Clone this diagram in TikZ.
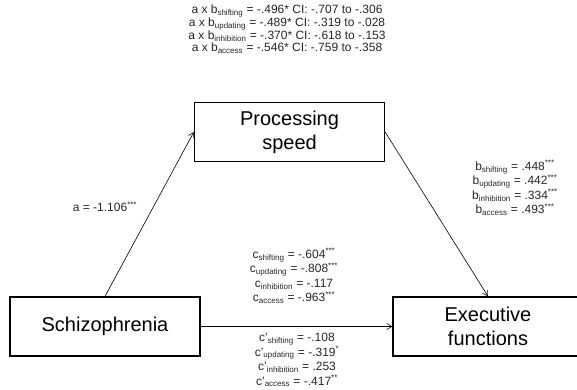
\documentclass[tikz,border=0pt]{standalone}
\usepackage{fontspec}
\setmainfont{Liberation Sans}
\usetikzlibrary{arrows.meta}
\newcommand{\sbs}[1]{\textsubscript{#1}}
\newcommand{\sps}[1]{\textsuperscript{#1}}
\begin{document}
\begin{tikzpicture}[x=1pt,y=-1pt,
  box/.style={draw,line width=1.3pt,minimum width=190pt,minimum height=59pt,inner sep=0pt,align=center,font=\fontsize{20}{24}\selectfont},
  conn/.style={line width=0.6pt,-{Straight Barb[length=5pt,width=6pt]}},
  lbl/.style={align=center,inner sep=0pt,text=black!85}]
\useasboundingbox (0,0) rectangle (577,390);
\begin{scope}
\clip (0,0) rectangle (577,390);
\node[box] (ps) at (289.5,132) {Processing\\speed};
\node[box] (sz) at (105,326.5) {Schizophrenia};
\node[box] (ef) at (488,326.5) {Executive\\functions};
\end{scope}
\draw[conn] (sz.north) -- (ps.west);
\draw[conn] (ps.east) -- (ef.north);
\draw[conn] (sz.east) -- (ef.west);
\node[lbl,font=\fontsize{12}{11.5}\selectfont] (ab) at (287,29) {a x b\sbs{shifting} = -.496* CI: -.707 to -.306\\a x b\sbs{updating} = -.489* CI: -.319 to -.028\\a x b\sbs{inhibition} = -.370* CI: -.618 to -.153\\a x b\sbs{access} = -.546* CI: -.759 to -.358};
\node[lbl,font=\fontsize{12}{14}\selectfont] (al) at (105,207) {a = -1.106\sps{***}};
\node[lbl,font=\fontsize{12}{14.5}\selectfont] (bl) at (515,188) {b\sbs{shifting} = .448\sps{***}\\b\sbs{updating} = .442\sps{***}\\b\sbs{inhibition} = .334\sps{***}\\b\sbs{access} = .493\sps{***}};
\node[lbl,font=\fontsize{12}{14.5}\selectfont] (cl) at (294,276) {c\sbs{shifting} = -.604\sps{***}\\c\sbs{updating} = -.808\sps{***}\\c\sbs{inhibition} = -.117\\c\sbs{access} = -.963\sps{***}};
\node[lbl,font=\fontsize{12}{14.5}\selectfont] (cpl) at (297,360) {c'\sbs{shifting} = -.108\\c'\sbs{updating} = -.319\sps{*}\\c'\sbs{inhibition} = .253\\c'\sbs{access} = -.417\sps{**}};
\end{tikzpicture}
\end{document}
